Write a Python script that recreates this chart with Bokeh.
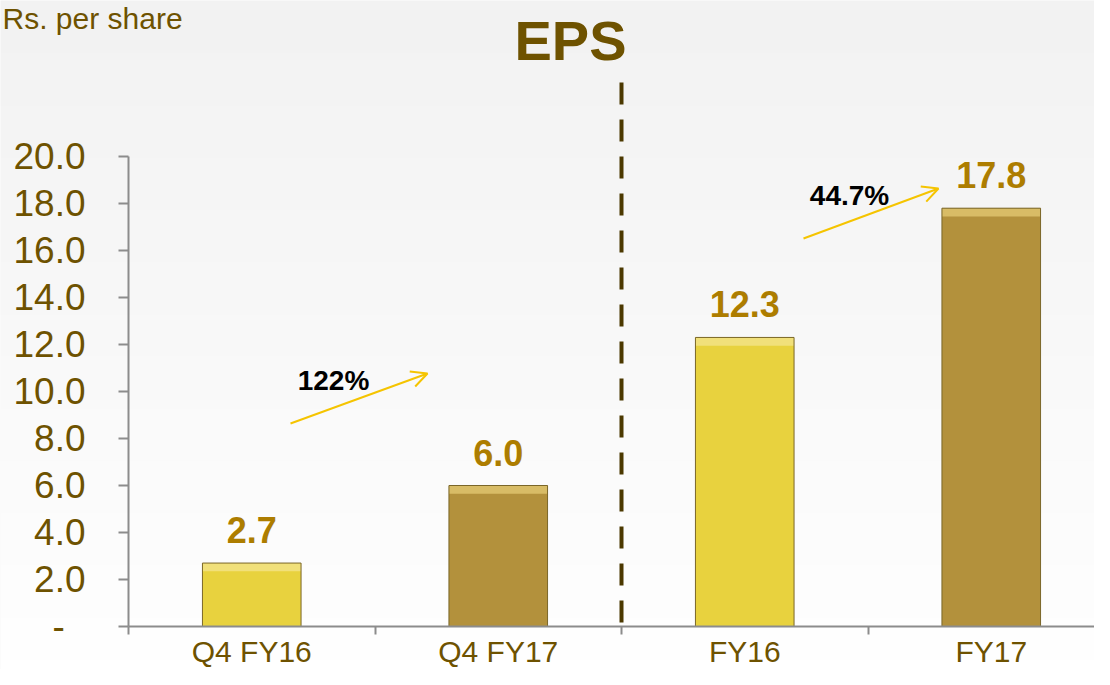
import numpy as np
from bokeh.plotting import figure
from bokeh.models import (Range1d, FixedTicker, ColumnDataSource, Label,
                          Arrow, OpenHead)
from bokeh.core.properties import value
from bokeh.embed import file_html
from bokeh.resources import INLINE

# ---- data ----
categories = ["Q4 FY16", "Q4 FY17", "FY16", "FY17"]
eps = [2.7, 6.0, 12.3, 17.8]
eps_labels = ["2.7", "6.0", "12.3", "17.8"]
bar_colors = ["#e8d23e", "#b3913c"] * 2
bar_highlight = ["#f1e07a", "#d8bc66"] * 2
growth_labels = ["122%", "44.7%"]
y_ticks = [0, 2, 4, 6, 8, 10, 12, 14, 16, 18, 20]
y_tick_labels = ["-\u00a0\u00a0"] + ["%.1f" % t for t in y_ticks[1:]]

FONT = "Liberation Sans"
BROWN = "#6e5200"
GOLD_TXT = "#ad7d00"

W, H = 1094, 669
AXIS_X = 128            # pixel column of the value axis
Y20 = 156               # pixel row of the 20.0 tick
Y0 = 626                # pixel row of the 0 baseline
cat_px = 246.5
ppu = (Y0 - Y20) / 20.0
x_start = -AXIS_X / cat_px
x_end = (W - AXIS_X) / cat_px
y_start = -(H - Y0) / ppu
y_end = 20 + Y20 / ppu


def dx(px):
    return (px - AXIS_X) / cat_px


def dy(py):
    return (Y0 - py) / ppu


p = figure(width=W, height=H, output_backend="svg", toolbar_location=None,
           x_range=Range1d(x_start, x_end), y_range=Range1d(y_start, y_end),
           min_border_left=0, min_border_bottom=0,
           min_border_top=0, min_border_right=0)
p.background_fill_color = "#f8f8f8"
p.border_fill_color = "#f8f8f8"
p.outline_line_color = None
p.grid.visible = False

# soft vertical background gradient (light grey at top -> white at bottom)
n = 64
g = np.linspace(255, 242, n).astype(np.uint32)
img = np.zeros((n, 1), dtype=np.uint32)
img[:, 0] = (255 << 24) | (g << 16) | (g << 8) | g
p.image_rgba(image=[img], x=x_start, y=y_start, dw=x_end - x_start,
             dh=y_end - y_start)

xs = [i + 0.5 for i in range(len(categories))]
hl_bottom = [v - 0.35 for v in eps]
src = ColumnDataSource(dict(x=xs, eps=eps, lab=eps_labels, color=bar_colors,
                            hl=bar_highlight, hlb=hl_bottom))

p.vbar(x="x", top="eps", width=0.4, fill_color="color", line_color=None, source=src)
p.vbar(x="x", top="eps", bottom="hlb", width=0.4, fill_color="hl", line_color=None,
       source=src)
p.vbar(x="x", top="eps", width=0.4, fill_color=None, line_color="#7a6628",
       line_width=1, source=src)

p.text(x="x", y="eps", text="lab", source=src, y_offset=-33,
       text_align="center", text_baseline="alphabetic",
       text_font=value(FONT), text_font_style="bold", text_font_size="36px",
       text_color=GOLD_TXT)

# separator dashed line between quarterly and annual figures
p.segment(x0=[2], y0=[dy(622)], x1=[2], y1=[dy(80)], line_color="#4b3800",
          line_width=4, line_dash="22 15")

# growth arrows
arrow_col = "#f5c400"
for (a, b, c, d) in [(290, 423, 427, 373), (803, 238, 938, 188)]:
    p.add_layout(Arrow(end=OpenHead(size=16, line_color=arrow_col, line_width=2),
                       x_start=dx(a), y_start=dy(b), x_end=dx(c), y_end=dy(d),
                       line_color=arrow_col, line_width=2))
for (txt, gx, gy) in zip(growth_labels, [333, 849], [380, 195]):
    p.add_layout(Label(x=dx(gx), y=dy(gy), text=txt, text_align="center",
                       text_baseline="middle", text_font=FONT,
                       text_font_style="bold", text_font_size="28px",
                       text_color="#000000"))

# titles
p.add_layout(Label(x=dx(570), y=dy(40), text="EPS", text_align="center",
                   text_baseline="middle", text_font=FONT, text_font_style="bold",
                   text_font_size="56px", text_color=BROWN))
p.add_layout(Label(x=dx(2), y=dy(18), text="Rs. per share", text_align="left",
                   text_baseline="middle", text_font=FONT, text_font_size="30px",
                   text_color=BROWN))

# axes (crossing at the origin inside the frame)
ya = p.yaxis[0]
ya.fixed_location = 0
ya.bounds = (0, 20)
ya.ticker = FixedTicker(ticks=y_ticks, minor_ticks=[])
ya.major_label_overrides = {t: l for t, l in zip(y_ticks, y_tick_labels)}
ya.axis_line_color = "#8c8c8c"
ya.axis_line_width = 2
ya.major_tick_line_color = "#8c8c8c"
ya.major_tick_line_width = 2
ya.major_tick_in = 0
ya.major_tick_out = 10
ya.major_label_standoff = 33
ya.major_label_text_font = FONT
ya.major_label_text_font_size = "37px"
ya.major_label_text_color = BROWN

xa_ = p.xaxis[0]
xa_.fixed_location = 0
xa_.bounds = (0, x_end)
xa_.ticker = FixedTicker(ticks=xs, minor_ticks=list(range(len(categories) + 1)))
xa_.major_label_overrides = {x: c for x, c in zip(xs, categories)}
xa_.axis_line_color = "#8c8c8c"
xa_.axis_line_width = 2
xa_.major_tick_line_color = None
xa_.major_tick_in = 0
xa_.major_tick_out = 0
xa_.minor_tick_line_color = "#8c8c8c"
xa_.minor_tick_line_width = 2
xa_.minor_tick_in = 0
xa_.minor_tick_out = 8
xa_.major_label_standoff = 0
xa_.major_label_text_font = FONT
xa_.major_label_text_font_size = "30px"
xa_.major_label_text_color = BROWN

open("out.html", "w").write(file_html(p, INLINE))
